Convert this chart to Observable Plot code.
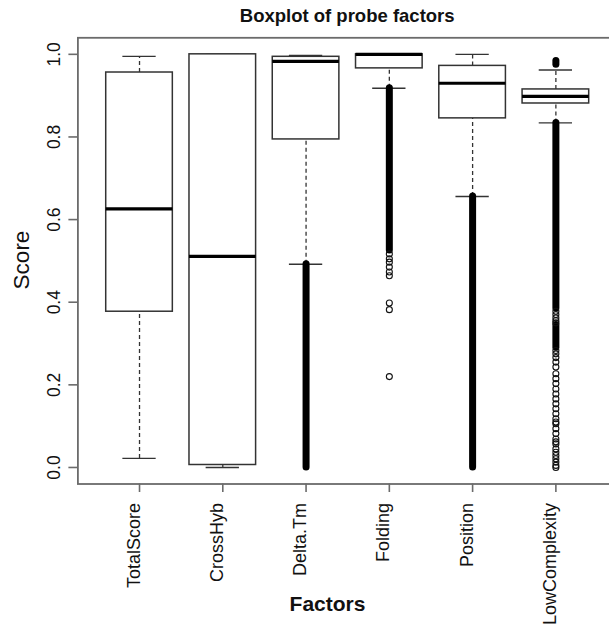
<!DOCTYPE html>
<html>
<head>
<meta charset="utf-8">
<script src="https://cdn.jsdelivr.net/npm/d3@7"></script>
<script src="https://cdn.jsdelivr.net/npm/@observablehq/plot@0.6"></script>
<style>
  html, body { margin: 0; padding: 0; background: #fff; overflow: hidden; }
  #wrap { width: 609px; height: 630px; overflow: hidden; position: relative; background: #fff; }
  #wrap svg { max-width: none !important; width: 640px !important; height: 630px !important; display: block; }
</style>
</head>
<body>
<div id="wrap"></div>
<script>
// ---- data ----
const categories = ["TotalScore", "CrossHyb", "Delta.Tm", "Folding", "Position", "LowComplexity"];
const lowerWhisker = [0.022, 0.0, 0.492, 0.918, 0.656, 0.834];
const q1 = [0.377, 0.006, 0.794, 0.966, 0.845, 0.881];
const medians = [0.626, 0.511, 0.983, 1.0, 0.930, 0.898];
const q3 = [0.956, 1.0, 0.994, 1.0, 0.972, 0.915];
const upperWhisker = [0.995, 1.0, 0.997, 1.0, 1.0, 0.962];

// dense runs of overlapping outlier circles (drawn as a solid band)
const denseFactor = ["Delta.Tm", "Folding", "Position", "LowComplexity", "LowComplexity", "LowComplexity"];
const denseLow = [0.0, 0.525, 0.0, 0.385, 0.975, 0.29];
const denseHigh = [0.492, 0.918, 0.656, 0.834, 0.984, 0.345];

// individually visible outlier circles
const outlierFactor = [
  "Folding", "Folding", "Folding", "Folding", "Folding", "Folding", "Folding", "Folding", "Folding",
  "LowComplexity", "LowComplexity", "LowComplexity", "LowComplexity", "LowComplexity", "LowComplexity",
  "LowComplexity", "LowComplexity", "LowComplexity", "LowComplexity", "LowComplexity", "LowComplexity",
  "LowComplexity", "LowComplexity", "LowComplexity", "LowComplexity", "LowComplexity", "LowComplexity",
  "LowComplexity", "LowComplexity", "LowComplexity", "LowComplexity", "LowComplexity", "LowComplexity",
  "LowComplexity", "LowComplexity", "LowComplexity", "LowComplexity", "LowComplexity", "LowComplexity",
  "LowComplexity", "LowComplexity", "LowComplexity", "LowComplexity"
];
const outlierValue = [
  0.517, 0.505, 0.497, 0.485, 0.473, 0.464, 0.398, 0.382, 0.220,
  0.378, 0.370, 0.362, 0.355, 0.350, 0.283, 0.275, 0.266, 0.255, 0.243, 0.227, 0.215, 0.203, 0.190,
  0.178, 0.166, 0.154, 0.142, 0.130, 0.118, 0.106, 0.094, 0.082, 0.069, 0.057, 0.045,
  0.037, 0.029, 0.021, 0.013, 0.005, 0.0, 0.062, 0.110
];

const yTicks = [0, 0.2, 0.4, 0.6, 0.8, 1.0];
const titleText = "Boxplot of probe factors";
const xLabel = "Factors";
const yLabel = "Score";

// ---- build ----
const pos = d3.range(categories.length).map(i => i + 1);
const posOf = f => categories.indexOf(f) + 1;
const boxes = categories.map((c, i) => ({
  c, x: i + 1, lo: lowerWhisker[i], q1: q1[i], med: medians[i], q3: q3[i], hi: upperWhisker[i]
}));
const dense = denseFactor.map((f, i) => ({x: posOf(f), lo: denseLow[i], hi: denseHigh[i]}));
const outliers = outlierFactor.map((f, i) => ({x: posOf(f), v: outlierValue[i]}));

const font = "'Liberation Sans', Arial, Helvetica, sans-serif";
const boxW = 0.4, capW = 0.2;

const chart = Plot.plot({
  width: 640,
  height: 630,
  marginLeft: 77.4,
  marginRight: 23,
  marginTop: 37.3,
  marginBottom: 146.5,
  x: {type: "linear", domain: [0.26, 6.74]},
  y: {domain: [-0.04, 1.04]},
  style: {fontFamily: font, background: "#fff", color: "#111", maxWidth: "none"},
  marks: [
    // whiskers (dashed)
    Plot.ruleX(boxes, {x: "x", y1: "q3", y2: "hi", stroke: "#333", strokeWidth: 1.3, strokeDasharray: "4,3"}),
    Plot.ruleX(boxes, {x: "x", y1: "lo", y2: "q1", stroke: "#333", strokeWidth: 1.3, strokeDasharray: "4,3"}),
    // whisker caps
    Plot.ruleY(boxes, {y: "hi", x1: d => d.x - capW, x2: d => d.x + capW, stroke: "#333", strokeWidth: 1.4}),
    Plot.ruleY(boxes, {y: "lo", x1: d => d.x - capW, x2: d => d.x + capW, stroke: "#333", strokeWidth: 1.4}),
    // boxes
    Plot.rect(boxes, {x1: d => d.x - boxW, x2: d => d.x + boxW, y1: "q1", y2: "q3", fill: "#fff", stroke: "#333", strokeWidth: 1.5}),
    // medians
    Plot.ruleY(boxes, {y: "med", x1: d => d.x - boxW, x2: d => d.x + boxW, stroke: "#000", strokeWidth: 3.2}),
    // dense outlier runs
    Plot.ruleX(dense, {x: "x", y1: "lo", y2: "hi", stroke: "#000", strokeWidth: 7, strokeLinecap: "round"}),
    // individual outliers
    Plot.dot(outliers, {x: "x", y: "v", r: 3, stroke: "#111", fill: "none", strokeWidth: 1.1}),
    // frame and axes
    Plot.frame({stroke: "#6b6b6b", strokeWidth: 1.8}),
    Plot.axisX(pos, {tickSize: 8.5, tickFormat: () => "", stroke: "#6b6b6b", strokeWidth: 1.6, label: null}),
    Plot.axisY(yTicks, {tickSize: 9, tickFormat: () => "", stroke: "#6b6b6b", strokeWidth: 1.6, label: null}),
    Plot.text(categories, {x: (d, i) => i + 1, frameAnchor: "bottom", dy: 19, rotate: -90, textAnchor: "end", fontSize: 18, fill: "#111"}),
    Plot.text(yTicks, {y: d => d, text: d => d.toFixed(1), frameAnchor: "left", dx: -24, rotate: -90, textAnchor: "middle", fontSize: 17.5, fill: "#111"})
  ]
});

const svg = d3.select(chart);
svg.append("text")
  .attr("x", 347.2).attr("y", 21.7)
  .attr("text-anchor", "middle")
  .attr("font-family", font).attr("font-size", 18.5).attr("font-weight", "bold").attr("fill", "#111")
  .text(titleText);
svg.append("text")
  .attr("transform", "translate(29,260) rotate(-90)")
  .attr("text-anchor", "middle")
  .attr("font-family", font).attr("font-size", 22.5).attr("fill", "#111")
  .text(yLabel);
svg.append("text")
  .attr("x", 327.5).attr("y", 610.7)
  .attr("text-anchor", "middle")
  .attr("font-family", font).attr("font-size", 21).attr("font-weight", "bold").attr("fill", "#111")
  .text(xLabel);

document.getElementById("wrap").appendChild(chart);
</script>
</body>
</html>
